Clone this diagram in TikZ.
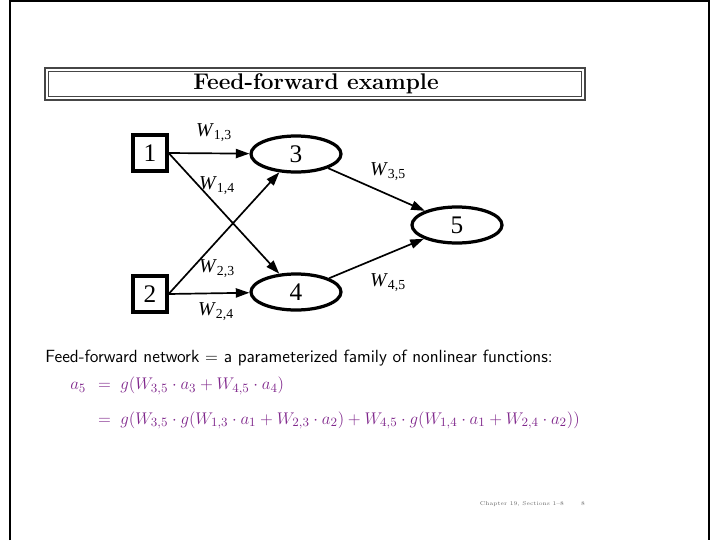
\documentclass[tikz,border=0pt]{standalone}
\usepackage{amsmath}
\usepackage{fontspec}
\newfontfamily\figfont{Liberation Serif}
\definecolor{eqpurple}{RGB}{128,40,140}
\definecolor{framegray}{RGB}{70,70,70}
\usetikzlibrary{arrows.meta,shapes.geometric}

\tikzset{
  inbox/.style={draw, line width=2.3pt, minimum width=0.85cm, minimum height=0.9cm, inner sep=0pt, font=\figfont\fontsize{18}{20}\selectfont},
  unit/.style={draw, ellipse, line width=2.3pt, minimum width=2.25cm, minimum height=0.9cm, inner sep=0pt, font=\figfont\fontsize{18}{20}\selectfont},
  link/.style={line width=1.2pt, -{Triangle[length=3.4mm,width=2.3mm]}},
  wlabel/.style={inner sep=0pt, font=\figfont\fontsize{14}{16}\selectfont}
}
\newcommand{\wt}[1]{\textit{W}\textsubscript{#1}}

\begin{document}
\begin{tikzpicture}[x=0.025cm, y=-0.025cm]
  \useasboundingbox (0,0) rectangle (720,540);
  %% page frame
  \draw[line width=1.5pt] (10,540) -- (10,1) -- (709,1) -- (709,540);

  %% title bar
  \draw[framegray, line width=1.2pt] (45,68) rectangle (585,100);
  \draw[framegray, line width=0.8pt] (48.5,71.5) rectangle (581.5,96.5);
  \node (title) at (316,84) {\fontsize{16.1}{19}\selectfont\bfseries Feed-forward example};

  %% network
  \node[inbox] (n1) at (150,153) {1};
  \node[inbox] (n2) at (150,294) {2};
  \node[unit]  (n3) at (296,154) {3};
  \node[unit]  (n4) at (296,292) {4};
  \node[unit]  (n5) at (457,225) {5};

  \draw[link] (n1.east) -- (n3);
  \draw[link] (n1.east) -- (n4);
  \draw[link] (n2.east) -- (n3);
  \draw[link] (n2.east) -- (n4);
  \draw[link] (n3) -- (n5);
  \draw[link] (n4) -- (n5);

  \node[wlabel] (w13) at (214,133) {\wt{1,3}};
  \node[wlabel] (w14) at (217,186) {\wt{1,4}};
  \node[wlabel] (w23) at (217,269) {\wt{2,3}};
  \node[wlabel] (w24) at (216,312) {\wt{2,4}};
  \node[wlabel] (w35) at (388,172) {\wt{3,5}};
  \node[wlabel] (w45) at (388,283) {\wt{4,5}};

  %% text below
  \node[anchor=west, inner sep=0pt, font=\sffamily\fontsize{12.55}{15}\selectfont] (desc) at (45,358)
    {Feed-forward network $=$ a parameterized family of nonlinear functions:};
  \node[anchor=north west, inner sep=0pt, text=eqpurple, font=\fontsize{13.2}{15.5}\selectfont] (eqn) at (70,374)
    {$\begin{array}{@{}r@{\hspace{0.65em}}l@{}}
      a_5 & =\; g(W_{3,5}\cdot a_3 + W_{4,5}\cdot a_4)\\[9pt]
          & =\; g(W_{3,5}\cdot g(W_{1,3}\cdot a_1 + W_{2,3}\cdot a_2) + W_{4,5}\cdot g(W_{1,4}\cdot a_1 + W_{2,4}\cdot a_2))
    \end{array}$};

  %% footer
  \node[text=black!60, font=\fontsize{4}{5}\selectfont] (foot) at (522,504) {Chapter 19, Sections 1--8};
  \node[text=black!60, font=\fontsize{4}{5}\selectfont] (page) at (583,504) {8};
\end{tikzpicture}
\end{document}
